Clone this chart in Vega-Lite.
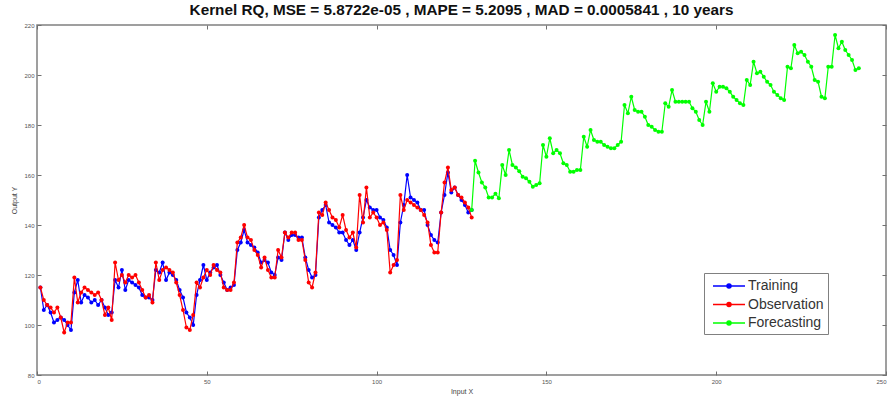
{
  "$schema": "https://vega.github.io/schema/vega-lite/v6.json",
  "width": 849,
  "height": 350,
  "autosize": {"type": "none"},
  "padding": {"left": 37, "top": 25, "right": 3, "bottom": 24},
  "background": "white",
  "title": {"text": "Kernel RQ, MSE = 5.8722e-05 , MAPE = 5.2095 , MAD = 0.0005841 , 10 years", "fontSize": 15.3, "fontWeight": "bold", "font": "Liberation Sans", "color": "#111111", "offset": 4, "anchor": "middle"},
  "config": {
    "view": {"stroke": "#808080", "strokeWidth": 1.5},
    "axis": {"grid": false, "domain": false, "tickColor": "#707070", "tickSize": -4, "labelPadding": 7, "labelFontSize": 6, "labelColor": "#555555", "labelFont": "Liberation Sans", "titleFont": "Liberation Sans", "titleFontSize": 7, "titleFontWeight": "normal", "titleColor": "#444444"},
    "legend": {"orient": "none", "legendX": 667, "legendY": 248, "fillColor": "white", "strokeColor": "#808080", "padding": 4, "symbolType": "M-2,0L2,0M-0.25,0A0.25,0.25 0 1 1 0.25,0A0.25,0.25 0 1 1 -0.25,0Z", "symbolSize": 256, "symbolOffset": 12, "symbolStrokeWidth": 1.5, "labelFontSize": 14, "labelFont": "Liberation Sans", "labelColor": "#333333", "labelOffset": 10, "rowPadding": 2.5, "title": null}
  },
  "datasets": {
    "train": [
      {"x":1,"y":115},{"x":2,"y":106},{"x":3,"y":108},{"x":4,"y":105},{"x":5,"y":101},{"x":6,"y":102},{"x":7,"y":103},{"x":8,"y":102},{"x":9,"y":100},{"x":10,"y":98},
      {"x":11,"y":113},{"x":12,"y":118},{"x":13,"y":109},{"x":14,"y":112},{"x":15,"y":111},{"x":16,"y":109},{"x":17,"y":110},{"x":18,"y":108},{"x":19,"y":110},{"x":20,"y":107},{"x":21,"y":104},{"x":22,"y":105},
      {"x":23,"y":118},{"x":24,"y":115},{"x":25,"y":122},{"x":26,"y":114},{"x":27,"y":118},{"x":28,"y":117},{"x":29,"y":116},{"x":30,"y":115},{"x":31,"y":112},{"x":32,"y":111},{"x":33,"y":111},{"x":34,"y":110},
      {"x":35,"y":122},{"x":36,"y":121},{"x":37,"y":125},{"x":38,"y":118},{"x":39,"y":121},{"x":40,"y":120},{"x":41,"y":118},{"x":42,"y":114},{"x":43,"y":111},{"x":44,"y":105},{"x":45,"y":103},{"x":46,"y":100},
      {"x":47,"y":112},{"x":48,"y":118},{"x":49,"y":124},{"x":50,"y":118},{"x":51,"y":121},{"x":52,"y":123},{"x":53,"y":124},{"x":54,"y":120},{"x":55,"y":117},{"x":56,"y":114},{"x":57,"y":115},{"x":58,"y":116},
      {"x":59,"y":130},{"x":60,"y":133},{"x":61,"y":138},{"x":62,"y":133},{"x":63,"y":132},{"x":64,"y":131},{"x":65,"y":129},{"x":66,"y":125},{"x":67,"y":126},{"x":68,"y":125},{"x":69,"y":121},{"x":70,"y":120},
      {"x":71,"y":127},{"x":72,"y":126},{"x":73,"y":137},{"x":74,"y":134},{"x":75,"y":136},{"x":76,"y":136},{"x":77,"y":135},{"x":78,"y":135},{"x":79,"y":127},{"x":80,"y":122},{"x":81,"y":119},{"x":82,"y":120},
      {"x":83,"y":143},{"x":84,"y":146},{"x":85,"y":148},{"x":86,"y":141},{"x":87,"y":140},{"x":88,"y":139},{"x":89,"y":137},{"x":90,"y":137},{"x":91,"y":134},{"x":92,"y":132},{"x":93,"y":134},{"x":94,"y":130},
      {"x":95,"y":137},{"x":96,"y":143},{"x":97,"y":150},{"x":98,"y":147},{"x":99,"y":146},{"x":100,"y":146},{"x":101,"y":143},{"x":102,"y":142},{"x":103,"y":139},{"x":104,"y":130},{"x":105,"y":128},{"x":106,"y":124},
      {"x":107,"y":141},{"x":108,"y":148},{"x":109,"y":160},{"x":110,"y":151},{"x":111,"y":150},{"x":112,"y":149},{"x":113,"y":146},{"x":114,"y":146},{"x":115,"y":140},{"x":116,"y":136},{"x":117,"y":134},{"x":118,"y":133},
      {"x":119,"y":145},{"x":120,"y":152},{"x":121,"y":161},{"x":122,"y":153},{"x":123,"y":155},{"x":124,"y":152},{"x":125,"y":150},{"x":126,"y":148},{"x":127,"y":145},{"x":128,"y":146}
    ],
    "obs": [
      {"x":1,"y":115},{"x":2,"y":110},{"x":3,"y":108},{"x":4,"y":107},{"x":5,"y":105},{"x":6,"y":107},{"x":7,"y":103},{"x":8,"y":97},{"x":9,"y":101},{"x":10,"y":101},
      {"x":11,"y":119},{"x":12,"y":109},{"x":13,"y":113},{"x":14,"y":115},{"x":15,"y":114},{"x":16,"y":113},{"x":17,"y":112},{"x":18,"y":113},{"x":19,"y":110},{"x":20,"y":104},{"x":21,"y":107},{"x":22,"y":102},
      {"x":23,"y":125},{"x":24,"y":118},{"x":25,"y":120},{"x":26,"y":117},{"x":27,"y":120},{"x":28,"y":119},{"x":29,"y":120},{"x":30,"y":117},{"x":31,"y":114},{"x":32,"y":111},{"x":33,"y":112},{"x":34,"y":109},
      {"x":35,"y":125},{"x":36,"y":118},{"x":37,"y":122},{"x":38,"y":123},{"x":39,"y":122},{"x":40,"y":121},{"x":41,"y":117},{"x":42,"y":112},{"x":43,"y":106},{"x":44,"y":99},{"x":45,"y":98},{"x":46,"y":104},
      {"x":47,"y":117},{"x":48,"y":115},{"x":49,"y":119},{"x":50,"y":122},{"x":51,"y":120},{"x":52,"y":124},{"x":53,"y":122},{"x":54,"y":121},{"x":55,"y":115},{"x":56,"y":114},{"x":57,"y":114},{"x":58,"y":117},
      {"x":59,"y":133},{"x":60,"y":135},{"x":61,"y":140},{"x":62,"y":135},{"x":63,"y":134},{"x":64,"y":130},{"x":65,"y":128},{"x":66,"y":123},{"x":67,"y":127},{"x":68,"y":122},{"x":69,"y":119},{"x":70,"y":119},
      {"x":71,"y":130},{"x":72,"y":127},{"x":73,"y":137},{"x":74,"y":135},{"x":75,"y":137},{"x":76,"y":137},{"x":77,"y":134},{"x":78,"y":134},{"x":79,"y":126},{"x":80,"y":117},{"x":81,"y":115},{"x":82,"y":121},
      {"x":83,"y":145},{"x":84,"y":144},{"x":85,"y":149},{"x":86,"y":146},{"x":87,"y":143},{"x":88,"y":142},{"x":89,"y":139},{"x":90,"y":144},{"x":91,"y":138},{"x":92,"y":135},{"x":93,"y":137},{"x":94,"y":131},
      {"x":95,"y":152},{"x":96,"y":141},{"x":97,"y":155},{"x":98,"y":143},{"x":99,"y":145},{"x":100,"y":143},{"x":101,"y":140},{"x":102,"y":141},{"x":103,"y":138},{"x":104,"y":121},{"x":105,"y":124},{"x":106,"y":126},
      {"x":107,"y":152},{"x":108,"y":146},{"x":109,"y":150},{"x":110,"y":149},{"x":111,"y":148},{"x":112,"y":147},{"x":113,"y":146},{"x":114,"y":144},{"x":115,"y":141},{"x":116,"y":132},{"x":117,"y":129},{"x":118,"y":129},
      {"x":119,"y":145},{"x":120,"y":157},{"x":121,"y":163},{"x":122,"y":154},{"x":123,"y":155},{"x":124,"y":152},{"x":125,"y":151},{"x":126,"y":149},{"x":127,"y":147},{"x":128,"y":143}
    ],
    "fc": [
      {"x":128,"y":146},{"x":129,"y":165.7},{"x":130,"y":161},{"x":131,"y":157},{"x":132,"y":155},{"x":133,"y":151},{"x":134,"y":151},{"x":135,"y":152.5},{"x":136,"y":150.7},
      {"x":137,"y":164},{"x":138,"y":160},{"x":139,"y":170},{"x":140,"y":164},{"x":141,"y":163},{"x":142,"y":161.5},{"x":143,"y":159.3},{"x":144,"y":158.7},{"x":145,"y":157.3},{"x":146,"y":155.3},{"x":147,"y":156},{"x":148,"y":156.7},
      {"x":149,"y":172},{"x":150,"y":167.3},{"x":151,"y":174.7},{"x":152,"y":168.7},{"x":153,"y":170},{"x":154,"y":168.7},{"x":155,"y":164.7},{"x":156,"y":164},{"x":157,"y":161.3},{"x":158,"y":161.3},{"x":159,"y":162},{"x":160,"y":162},
      {"x":161,"y":175.3},{"x":162,"y":171.3},{"x":163,"y":178},{"x":164,"y":174},{"x":165,"y":173.3},{"x":166,"y":173.3},{"x":167,"y":172},{"x":168,"y":171.3},{"x":169,"y":170.7},{"x":170,"y":170.7},{"x":171,"y":172},{"x":172,"y":173.3},
      {"x":173,"y":188},{"x":174,"y":184.7},{"x":175,"y":191.3},{"x":176,"y":186},{"x":177,"y":185.3},{"x":178,"y":185.3},{"x":179,"y":183.3},{"x":180,"y":180},{"x":181,"y":179.3},{"x":182,"y":178},{"x":183,"y":177.3},{"x":184,"y":177.3},
      {"x":185,"y":188.7},{"x":186,"y":187.3},{"x":187,"y":194},{"x":188,"y":189.3},{"x":189,"y":189.3},{"x":190,"y":189.3},{"x":191,"y":189.3},{"x":192,"y":189.3},{"x":193,"y":186.7},{"x":194,"y":185.3},{"x":195,"y":182},{"x":196,"y":180},
      {"x":197,"y":189.3},{"x":198,"y":185.3},{"x":199,"y":196.7},{"x":200,"y":193.3},{"x":201,"y":195.3},{"x":202,"y":195.3},{"x":203,"y":194.7},{"x":204,"y":193.3},{"x":205,"y":191.3},{"x":206,"y":190},{"x":207,"y":188.7},{"x":208,"y":188},
      {"x":209,"y":198},{"x":210,"y":196},{"x":211,"y":205.3},{"x":212,"y":200.7},{"x":213,"y":201.3},{"x":214,"y":199.3},{"x":215,"y":197.3},{"x":216,"y":196},{"x":217,"y":193.3},{"x":218,"y":192},{"x":219,"y":190.7},{"x":220,"y":190},
      {"x":221,"y":203.3},{"x":222,"y":202.7},{"x":223,"y":212},{"x":224,"y":208.7},{"x":225,"y":209.3},{"x":226,"y":208},{"x":227,"y":205.3},{"x":228,"y":203.3},{"x":229,"y":198},{"x":230,"y":197.3},{"x":231,"y":191.3},{"x":232,"y":190.7},
      {"x":233,"y":203.3},{"x":234,"y":203.3},{"x":235,"y":216},{"x":236,"y":210.7},{"x":237,"y":213.3},{"x":238,"y":210},{"x":239,"y":208},{"x":240,"y":206},{"x":241,"y":202},{"x":242,"y":202.7}
    ]
  },
  "resolve": {"axis": {"x": "independent", "y": "independent"}},
  "layer": [
    {
      "data": {"name": "train"},
      "transform": [{"calculate": "'Training'", "as": "series"}],
      "mark": {"type": "line", "strokeWidth": 1.2, "point": {"filled": true, "size": 16}},
      "encoding": {
        "x": {"field": "x", "type": "quantitative", "scale": {"domain": [0, 250], "nice": false}, "axis": {"orient": "bottom", "values": [0, 50, 100, 150, 200, 250], "title": "Input X", "titlePadding": 3}},
        "y": {"field": "y", "type": "quantitative", "scale": {"domain": [80, 220], "nice": false, "zero": false}, "axis": {"orient": "left", "values": [80, 100, 120, 140, 160, 180, 200, 220], "title": "Output Y", "titlePadding": 6}},
        "color": {"field": "series", "type": "nominal", "scale": {"domain": ["Training", "Observation", "Forecasting"], "range": ["#0000ff", "#ff0000", "#00ff00"]}}
      }
    },
    {
      "data": {"name": "obs"},
      "transform": [{"calculate": "'Observation'", "as": "series"}],
      "mark": {"type": "line", "strokeWidth": 1.2, "point": {"filled": true, "size": 16}},
      "encoding": {
        "x": {"field": "x", "type": "quantitative", "axis": null},
        "y": {"field": "y", "type": "quantitative", "axis": null},
        "color": {"field": "series", "type": "nominal"}
      }
    },
    {
      "data": {"name": "fc"},
      "transform": [{"calculate": "'Forecasting'", "as": "series"}],
      "mark": {"type": "line", "strokeWidth": 1.2, "point": {"filled": true, "size": 16}},
      "encoding": {
        "x": {"field": "x", "type": "quantitative", "axis": {"orient": "top", "values": [0, 50, 100, 150, 200, 250], "labels": false, "title": null}},
        "y": {"field": "y", "type": "quantitative", "axis": {"orient": "right", "values": [80, 100, 120, 140, 160, 180, 200, 220], "labels": false, "title": null}},
        "color": {"field": "series", "type": "nominal"}
      }
    }
  ]
}
